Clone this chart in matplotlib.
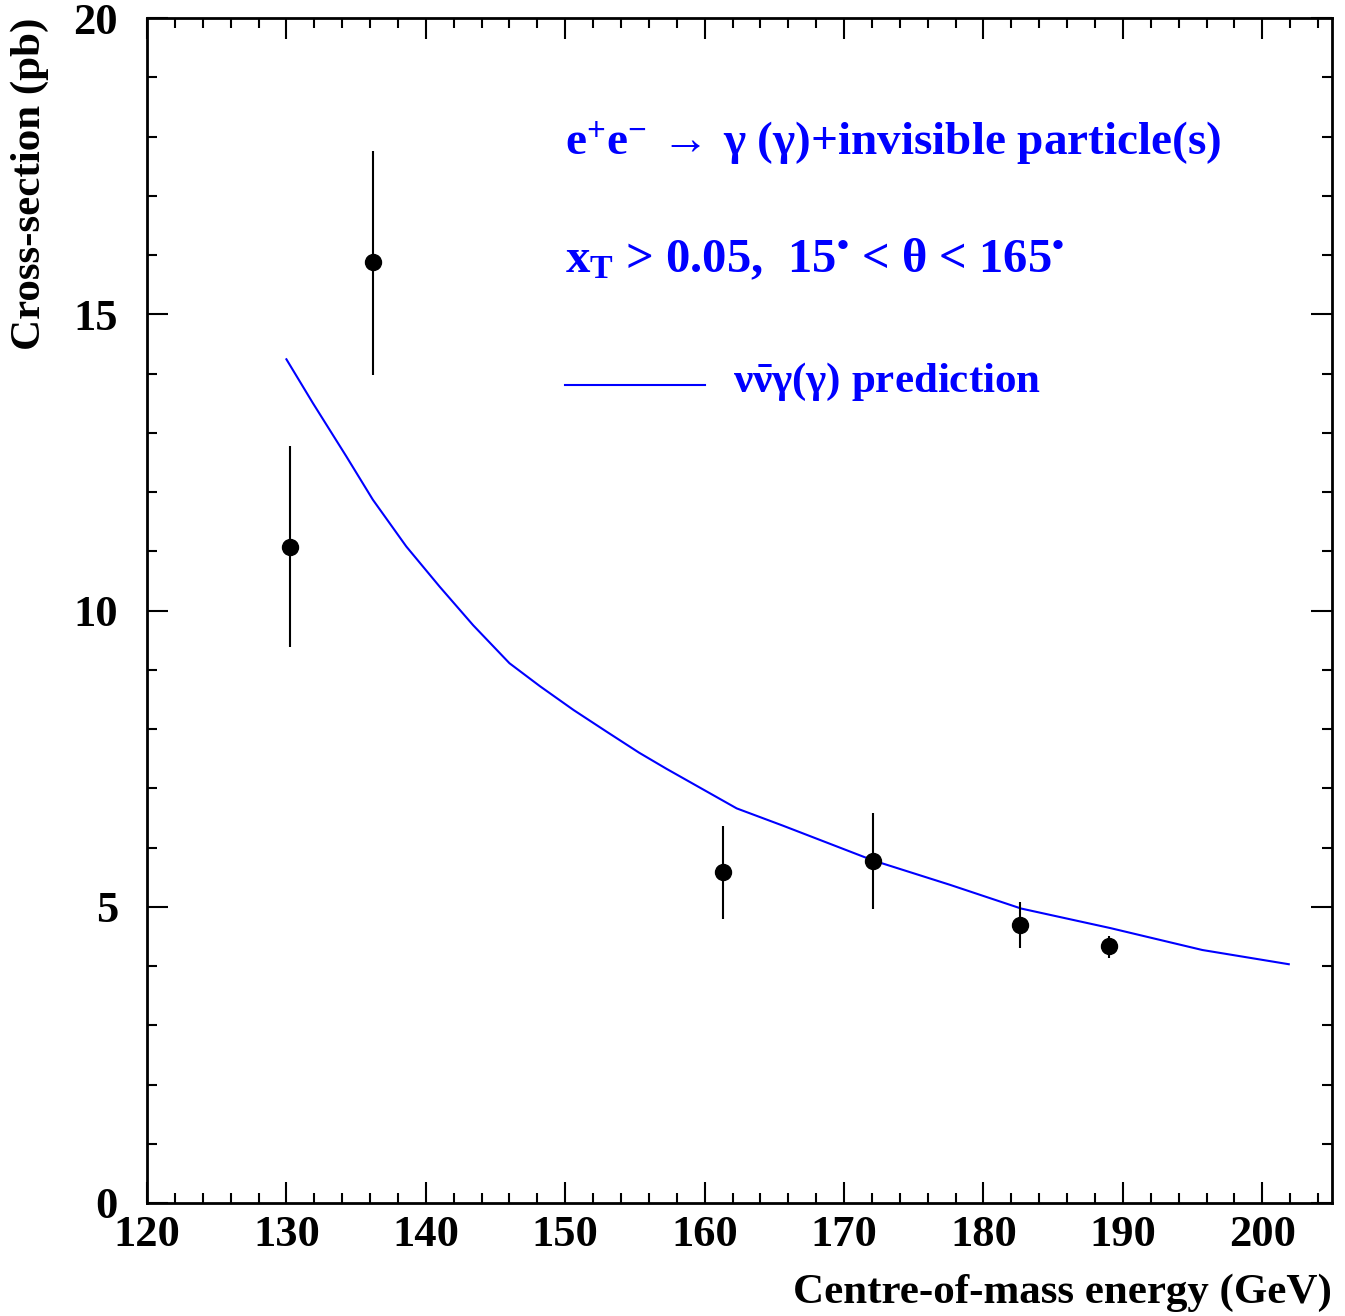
import numpy as np
import matplotlib
matplotlib.use("Agg")
import matplotlib.pyplot as plt
from matplotlib.ticker import MultipleLocator

plt.rcParams['font.family'] = ['Liberation Serif', 'DejaVu Serif']
plt.rcParams['mathtext.fontset'] = 'custom'
plt.rcParams['mathtext.rm'] = 'Liberation Serif:bold'
plt.rcParams['mathtext.it'] = 'Liberation Serif:bold'
plt.rcParams['mathtext.bf'] = 'Liberation Serif:bold'

# measured cross-sections
energy = [130.25, 136.2, 161.3, 172.1, 182.65, 189.0]
xsec = [11.08, 15.89, 5.58, 5.78, 4.70, 4.33]
err_up = [1.69, 1.87, 0.79, 0.80, 0.38, 0.17]
err_down = [1.70, 1.91, 0.79, 0.81, 0.40, 0.20]

# nu nubar gamma(gamma) prediction
pred_energy = [130.0, 131.9, 134.3, 136.2, 138.6, 141.0, 143.4, 146.0, 148.2,
               150.6, 153.0, 155.3, 157.25, 162.3, 165.6, 172.1, 177.6,
               182.7, 189.1, 195.7, 201.9]
pred_xsec = [14.24, 13.50, 12.60, 11.87, 11.08, 10.40, 9.75, 9.11, 8.72,
             8.32, 7.95, 7.60, 7.33, 6.66, 6.37, 5.78, 5.37,
             4.97, 4.64, 4.27, 4.03]

W, H = 1345, 1316
fig = plt.figure(figsize=(W / 100, H / 100), dpi=100)
ax = fig.add_axes([147 / W, 1 - 1203 / H, (1332 - 147) / W, (1203 - 18) / H])

ax.plot(pred_energy, pred_xsec, color='#0000ff', lw=1.5)
ax.errorbar(energy, xsec, yerr=[err_down, err_up], fmt='o', color='black',
            ms=11.5, elinewidth=1.5, capsize=0)

ax.set_xlim(120, 205)
ax.set_ylim(0, 20)
ax.xaxis.set_major_locator(MultipleLocator(10))
ax.xaxis.set_minor_locator(MultipleLocator(2))
ax.yaxis.set_major_locator(MultipleLocator(5))
ax.yaxis.set_minor_locator(MultipleLocator(1))
ax.tick_params(which='both', direction='in', top=True, right=True, width=1.5)
ax.tick_params(which='major', length=15, labelsize=32)
ax.tick_params(which='minor', length=7.5)
ax.tick_params(axis='x', which='major', pad=9)
ax.tick_params(axis='y', which='major', pad=21)
for s in ax.spines.values():
    s.set_linewidth(2)
for lbl in ax.get_xticklabels() + ax.get_yticklabels():
    lbl.set_fontweight('bold')

fig.text(1332 / W, 1 - 1293 / H, 'Centre-of-mass energy (GeV)', fontsize=31,
         fontweight='bold', ha='right', va='center')
fig.text(30 / W, 1 - 18 / H, 'Cross-section (pb)', fontsize=31,
         fontweight='bold', ha='center', va='top', rotation=90)

blue = '#0000ff'
ax.text(150, 17.69, r'$\mathrm{e^{+}e^{-}}\,\rightarrow\,\gamma\;(\gamma)$+invisible particle(s)',
        color=blue, fontsize=34, fontweight='bold', va='baseline')
ax.text(150, 15.71, r'$\mathrm{x_{T}}$ > 0.05,  15$^{•}$ < $\theta$ < 165$^{•}$',
        color=blue, fontsize=35, fontweight='bold', va='baseline')
ax.plot([150, 160], [13.81, 13.81], color=blue, lw=1.5)
ax.text(162.0, 13.69, r'$\nu\bar{\nu}\gamma(\gamma)$ prediction',
        color=blue, fontsize=31, fontweight='bold', va='baseline')

fig.savefig('out.png', dpi=100)
